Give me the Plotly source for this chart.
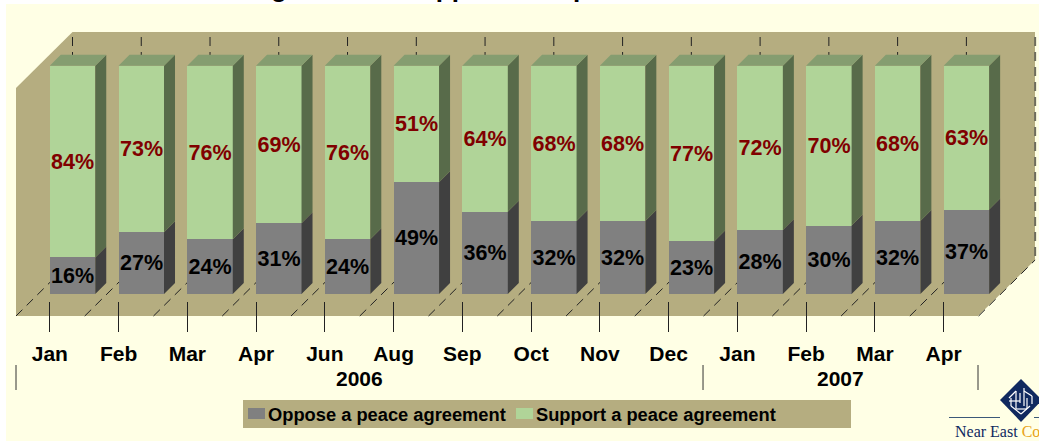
import plotly.graph_objects as go

months = ["Jan", "Feb", "Mar", "Apr", "Jun", "Aug", "Sep", "Oct", "Nov", "Dec", "Jan", "Feb", "Mar", "Apr"]
oppose = [16, 27, 24, 31, 24, 49, 36, 32, 32, 23, 28, 30, 32, 37]
support = [84, 73, 76, 69, 76, 51, 64, 68, 68, 77, 72, 70, 68, 63]
series_names = ["Oppose a peace agreement", "Support a peace agreement"]
years = ["2006", "2007"]
year_break = 9.5   # tick position between Dec and Jan where the years divide
title_text = "Tracking levels of support for a peace deal"

W, H = 1039, 441
ML, MT = 6, 4
STEP = 68.76           # px per category
X0 = 72.5              # px of first category centre
Y0 = 294.0             # px of value 0
UNIT = 2.283           # px per percentage point
BAR = 45.5 / STEP      # bar width in category units
DX = 11 / STEP         # depth of a bar
DY = 11 / UNIT
TICK_SHIFT = 22.7 / STEP  # ticks sit at the bars' left edge

IVORY = "#FFFFE5"
WALL = "#B5AD80"
GREY, GREY_SIDE = "#808080", "#404040"
GREEN, GREEN_SIDE, GREEN_TOP = "#B0D498", "#586B4A", "#859D70"
NAVY = "#10295F"
FONT = "Liberation Sans"


def ux(px):
    return (px - X0) / STEP


def uy(py):
    return (Y0 - py) / UNIT


def fx(px):
    return (px - ML) / (W - ML)


def fy(py):
    return (H - py) / (H - MT)


n = len(months)
idx = list(range(n))
fig = go.Figure()
shapes, notes = [], []


def polys(polygons, color, name):
    xs, ys = [], []
    for poly in polygons:
        xs += [p[0] for p in poly] + [poly[0][0], None]
        ys += [p[1] for p in poly] + [poly[0][1], None]
    fig.add_trace(go.Scatter(x=xs, y=ys, mode="lines", fill="toself", fillcolor=color,
                             line=dict(width=0, color=color), hoverinfo="skip",
                             showlegend=False, name=name))


# Room: back wall and floor (below every trace)
room = [(16, 316), (16, 88), (72.5, 32), (1035, 32), (1035, 260), (978, 316)]
path = "M" + " L".join(f"{ux(a)},{uy(b)}" for a, b in room) + " Z"
shapes.append(dict(type="path", xref="x", yref="y", path=path, fillcolor=WALL,
                   line=dict(width=0), layer="below"))

# Dashed gridlines on wall and floor
dash = dict(color="#222222", width=1, dash="9px,6px")
edge_dash = dict(color="#6E6C5C", width=2, dash="9px,6px")
for i in range(n + 1):
    shapes.append(dict(type="line", xref="x", yref="y", x0=i, x1=i, y0=uy(37), y1=uy(260),
                       line=edge_dash if i == n else dash, layer="below"))
    shapes.append(dict(type="line", xref="x", yref="y", x0=i - 56.5 / STEP, x1=i, y0=uy(316), y1=uy(260),
                       line=dash, layer="below"))

# Extruded faces of the bars
left = [i - BAR / 2 for i in idx]
right = [i + BAR / 2 for i in idx]
polys([[(r, 0), (r + DX, DY), (r + DX, v + DY), (r, v)] for r, v in zip(right, oppose)],
      GREY_SIDE, "oppose side")
polys([[(r, v), (r + DX, v + DY), (r + DX, v + s + DY), (r, v + s)]
       for r, v, s in zip(right, oppose, support)], GREEN_SIDE, "support side")
polys([[(l, v + s), (l + DX, v + s + DY), (r + DX, v + s + DY), (r, v + s)]
       for l, r, v, s in zip(left, right, oppose, support)], GREEN_TOP, "support top")

# Front faces
fig.add_trace(go.Bar(x=idx, y=oppose, width=BAR, name=series_names[0],
                     marker=dict(color=GREY, line=dict(width=0)),
                     text=[f"{v}%" for v in oppose], textposition="inside", insidetextanchor="middle",
                     textangle=0, constraintext="none", cliponaxis=False,
                     textfont=dict(family=FONT, size=21.5, color="#000000", weight="bold"),
                     showlegend=False))
fig.add_trace(go.Bar(x=idx, y=support, width=BAR, name=series_names[1],
                     marker=dict(color=GREEN, line=dict(width=0)),
                     text=[f"{v}%" for v in support], textposition="inside", insidetextanchor="middle",
                     textangle=0, constraintext="none", cliponaxis=False,
                     textfont=dict(family=FONT, size=21.5, color="#800000", weight="bold"),
                     showlegend=False))


def rect(x0, y0, x1, y1, color):
    shapes.append(dict(type="rect", xref="x", yref="y", x0=ux(x0), x1=ux(x1), y0=uy(y0), y1=uy(y1),
                       fillcolor=color, line=dict(width=0), layer="above"))


def seg(x0, y0, x1, y1, color, w=1):
    shapes.append(dict(type="line", xref="x", yref="y", x0=ux(x0), x1=ux(x1), y0=uy(y0), y1=uy(y1),
                       line=dict(color=color, width=w), layer="above"))


def note(px, py, text, size, color="#000000", anchor="center", family=FONT, weight="bold"):
    notes.append(dict(xref="x", yref="y", x=ux(px), y=uy(py), text=text, showarrow=False,
                      xanchor=anchor, yanchor="middle", borderpad=0, borderwidth=0,
                      font=dict(family=family, size=size, color=color, weight=weight)))


# Year labels and separators (the outer ones sit a little outside the first/last tick)
sep_px = [16, X0 + STEP * (year_break - TICK_SHIFT), 978]
for px in sep_px:
    seg(px, 365, px, 390, "#333333")
for label, a, b in zip(years, sep_px[:-1], sep_px[1:]):
    note((a + b) / 2, 378, label, 21)

# Legend panel
rect(243, 400, 851, 428, WALL)
rect(248, 408, 265, 419, GREY)
rect(516, 408, 533, 419, GREEN)
note(268, 414, series_names[0], 18.3, anchor="left")
note(536, 414, series_names[1], 18.3, anchor="left")

# Cropped title: only its descenders fall inside the page
notes.append(dict(xref="paper", yref="paper", x=fx(178), y=fy(-11.5), text=title_text,
                  showarrow=False, xanchor="left", yanchor="middle",
                  font=dict(family=FONT, size=26, color="#000000", weight="bold")))

# Logo
shapes.append(dict(type="path", xref="paper", yref="paper",
                   path=f"M{fx(1000)},{fy(400)} L{fx(1021)},{fy(379)} L{fx(1042)},{fy(400)} L{fx(1021)},{fy(422)} Z",
                   fillcolor=NAVY, line=dict(width=0), layer="above"))
for a in [(1009, 398, 1016, 391), (1016, 391, 1016, 409), (1011, 398, 1011, 406), (1011, 406, 1021, 414),
          (1024, 388, 1024, 406), (1024, 391, 1032, 396), (1032, 396, 1032, 404), (1021, 414, 1030, 406),
          (1009, 401, 1020, 401), (1020, 393, 1020, 403), (1027, 398, 1027, 409), (1016, 409, 1027, 409)]:
    seg(*a, "#FFFFFF", 1.2)
seg(949, 417.5, 1000, 417.5, "#3B5878", 1)
seg(1034, 417.5, 1039, 417.5, "#3B5878", 1)
note(955, 431, "Near East <span style='color:#E8A317'>Co</span>", 16, NAVY, "left",
     "Liberation Serif", "normal")

fig.update_layout(
    width=W, height=H, autosize=False, barmode="stack", bargap=0,
    margin=dict(l=ML, r=0, t=MT, b=0, autoexpand=False), paper_bgcolor="#FFFFFF", plot_bgcolor=IVORY,
    showlegend=False, shapes=shapes, annotations=notes,
    xaxis=dict(range=[ux(ML), ux(W)], tickmode="array", tickvals=[i - TICK_SHIFT for i in idx], ticktext=months,
               showgrid=False, zeroline=False, showline=False, ticks="outside", ticklen=30, tickwidth=1,
               tickcolor="#222222", anchor="free", position=fy(301), ticklabelstandoff=4,
               tickfont=dict(family=FONT, size=21, color="#000000", weight="bold")),
    yaxis=dict(range=[uy(H), uy(MT)], visible=False, fixedrange=True),
)
fig.write_html("out.html", config=dict(displayModeBar=False),
               post_script="document.body.style.margin='0';document.documentElement.style.overflow='hidden';")
